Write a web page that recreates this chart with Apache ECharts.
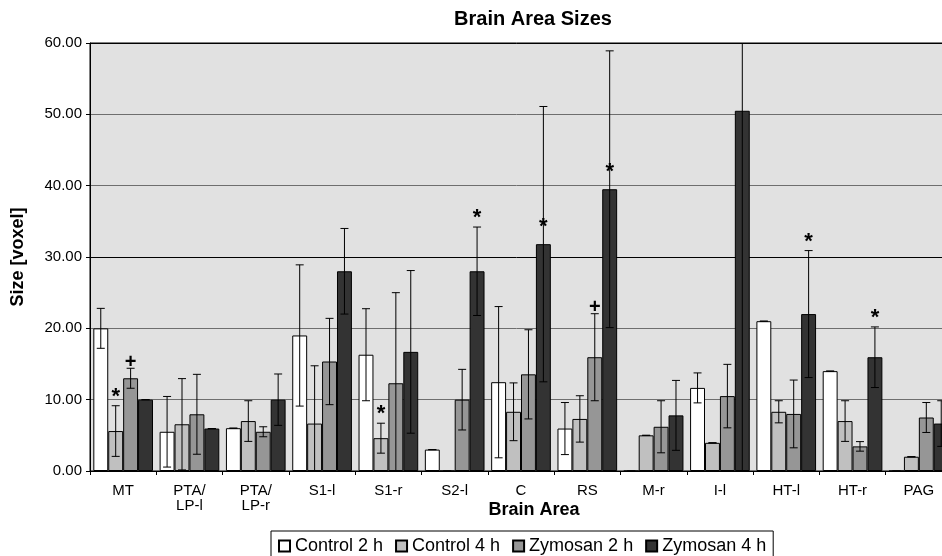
<!DOCTYPE html>
<html>
<head>
<meta charset="utf-8">
<title>Brain Area Sizes</title>
<script src="https://cdn.jsdelivr.net/npm/echarts@6/dist/echarts.min.js"></script>
<style>
  html, body { margin: 0; padding: 0; background: #fff; }
  #chart { width: 942px; height: 556px; }
</style>
</head>
<body>
<div id="chart"></div>
<script>
// Brain areas on the category axis
const categories = ['MT', 'PTA/\nLP-l', 'PTA/\nLP-r', 'S1-l', 'S1-r', 'S2-l', 'C', 'RS', 'M-r', 'I-l', 'HT-l', 'HT-r', 'PAG'];
const seriesNames = ['Control 2 h', 'Control 4 h', 'Zymosan 2 h', 'Zymosan 4 h'];
const yTicks = [0, 10, 20, 30, 40, 50, 60];

// Mean sizes [voxel] and their error half-widths per group
const control2h    = [20.0, 5.5, 6.0, 19.0, 16.3, 3.0, 12.45, 5.95, 0, 11.65, 21.0, 14.0, 0];
const control2hErr = [2.8, 4.95, 0, 9.9, 6.45, 0, 10.6, 3.65, 0, 2.1, 0, 0, 0];
const control4h    = [5.6, 6.55, 7.0, 6.65, 4.6, 0, 8.3, 7.3, 5.0, 3.95, 8.3, 7.0, 2.0];
const control4hErr = [3.55, 6.4, 2.85, 8.1, 2.1, 0, 4.05, 3.25, 0, 0, 1.55, 2.85, 0];
const zymosan2h    = [13.0, 7.95, 5.5, 15.35, 12.3, 10.0, 13.55, 15.95, 6.2, 10.5, 8.0, 3.45, 7.5];
const zymosan2hErr = [1.4, 5.6, 0.7, 6.05, 12.7, 4.25, 6.25, 6.1, 3.65, 4.45, 4.75, 0.67, 2.1];
const zymosan4h    = [10.0, 5.95, 10.0, 28.0, 16.7, 28.0, 31.8, 39.5, 7.8, 50.5, 22.0, 15.95, 6.65];
const zymosan4hErr = [0, 0, 3.6, 6.0, 11.4, 6.2, 19.3, 19.4, 4.9, 51, 8.9, 4.25, 3.2];

// Significance markers drawn above the bars
const control2hMarks = ['', '', '', '', '', '', '', '', '', '', '', '', ''];
const control4hMarks = ['*', '', '', '', '*', '', '', '', '', '', '', '', ''];
const zymosan2hMarks = ['+', '', '', '', '', '', '', '+', '', '', '', '', ''];
const zymosan4hMarks = ['', '', '', '', '', '*', '*', '*', '', '', '*', '*', ''];

const groups = [
  { name: seriesNames[0], values: control2h, errs: control2hErr, marks: control2hMarks, color: '#ffffff' },
  { name: seriesNames[1], values: control4h, errs: control4hErr, marks: control4hMarks, color: '#c0c0c0' },
  { name: seriesNames[2], values: zymosan2h, errs: zymosan2hErr, marks: zymosan2hMarks, color: '#969696' },
  { name: seriesNames[3], values: zymosan4h, errs: zymosan4hErr, marks: zymosan4hMarks, color: '#333333' }
];

const FONT = '"Liberation Sans", Arial, sans-serif';
const GAP_RATIO = 0.9; // share of the category band filled by the bars

const chart = echarts.init(document.getElementById('chart'), null, { renderer: 'canvas' });

const barSeries = groups.map(g => ({
  name: g.name,
  type: 'bar',
  data: g.values,
  barGap: '0%',
  barCategoryGap: '10%',
  itemStyle: { color: g.color, borderColor: '#000', borderWidth: 1 },
  z: 2
}));

// Error bars and marker glyphs, placed over the matching bar of each group
const errorSeries = groups.map((g, k) => ({
  name: g.name + ' error',
  type: 'custom',
  clip: true,
  z: 5,
  data: g.values.map((v, i) => [i, v, g.errs[i]]),
  encode: { x: 0, y: 1 },
  renderItem: function (params, api) {
    const i = api.value(0);
    const v = api.value(1);
    const e = api.value(2);
    const band = api.size([1, 0])[0];
    const bw = band * GAP_RATIO / groups.length;
    const cx = api.coord([i, 0])[0] + (k - (groups.length - 1) / 2) * bw;
    const yTop = api.coord([i, v + e])[1];
    const yBot = api.coord([i, Math.max(v - e, -5)])[1];
    const cap = 4;
    const style = { stroke: '#000', lineWidth: 1 };
    const children = [
      { type: 'line', shape: { x1: cx, y1: yTop, x2: cx, y2: yBot }, style: style },
      { type: 'line', shape: { x1: cx - cap, y1: yTop, x2: cx + cap, y2: yTop }, style: style },
      { type: 'line', shape: { x1: cx - cap, y1: yBot, x2: cx + cap, y2: yBot }, style: style }
    ];
    const mark = g.marks[params.dataIndex];
    if (mark) {
      // long whiskers: the marker sits just above the bar instead of the whisker
      const onBar = e > 10;
      const anchor = onBar ? api.coord([i, v])[1] : yTop;
      const isStar = mark === '*';
      const shift = onBar ? -6 : (isStar ? 2 : 4);
      children.push({
        type: 'text',
        style: {
          text: mark,
          x: cx,
          y: anchor + shift,
          font: 'bold ' + (isStar ? 22 : 20) + 'px ' + FONT,
          fill: '#000',
          textAlign: 'center',
          textVerticalAlign: 'bottom'
        }
      });
    }
    return { type: 'group', children: children };
  }
}));

chart.setOption({
  animation: false,
  textStyle: { fontFamily: FONT, color: '#000' },
  title: {
    text: 'Brain Area Sizes',
    left: 533,
    top: 9,
    padding: 0,
    textAlign: 'center',
    textStyle: { fontFamily: FONT, fontSize: 20, fontWeight: 'bold', color: '#000' }
  },
  legend: {
    data: seriesNames,
    left: 271,
    top: 531,
    padding: [6, 7, 6, 7],
    borderColor: '#000',
    borderWidth: 1,
    icon: 'rect',
    itemWidth: 11,
    itemHeight: 11,
    itemGap: 12,
    textStyle: { fontFamily: FONT, fontSize: 18, color: '#000' }
  },
  grid: {
    left: 90,
    top: 43,
    width: 862,
    height: 428,
    show: true,
    backgroundColor: '#e1e1e1',
    borderColor: '#000',
    borderWidth: 1,
    containLabel: false,
    outerBoundsMode: 'none'
  },
  xAxis: {
    type: 'category',
    data: categories,
    name: 'Brain Area',
    nameLocation: 'middle',
    nameGap: 30,
    nameMoveOverlap: false,
    nameTextStyle: { fontFamily: FONT, fontSize: 18, fontWeight: 'bold', color: '#000', padding: [0, 0, 0, 26] },
    axisLine: { lineStyle: { color: '#000', width: 1 } },
    axisTick: { show: true, length: 4, lineStyle: { color: '#000' } },
    axisLabel: { interval: 0, fontSize: 15, lineHeight: 15, margin: 12, color: '#000', fontFamily: FONT },
    splitLine: { show: false }
  },
  yAxis: {
    type: 'value',
    min: yTicks[0],
    max: yTicks[yTicks.length - 1],
    interval: 10,
    name: 'Size [voxel]',
    nameLocation: 'middle',
    nameGap: 63,
    nameMoveOverlap: false,
    nameTextStyle: { fontFamily: FONT, fontSize: 18, fontWeight: 'bold', color: '#000' },
    axisLine: { show: true, lineStyle: { color: '#000', width: 1 } },
    axisTick: { show: true, length: 4, lineStyle: { color: '#000' } },
    axisLabel: {
      fontSize: 15,
      margin: 8,
      color: '#000',
      fontFamily: FONT,
      formatter: v => v.toFixed(2)
    },
    splitLine: {
      show: true,
      lineStyle: {
        color: ['#000', '#6e6e6e', '#6e6e6e', '#000', '#6e6e6e', '#6e6e6e', '#000'],
        width: 1
      }
    }
  },
  series: barSeries.concat(errorSeries)
});
</script>
</body>
</html>
